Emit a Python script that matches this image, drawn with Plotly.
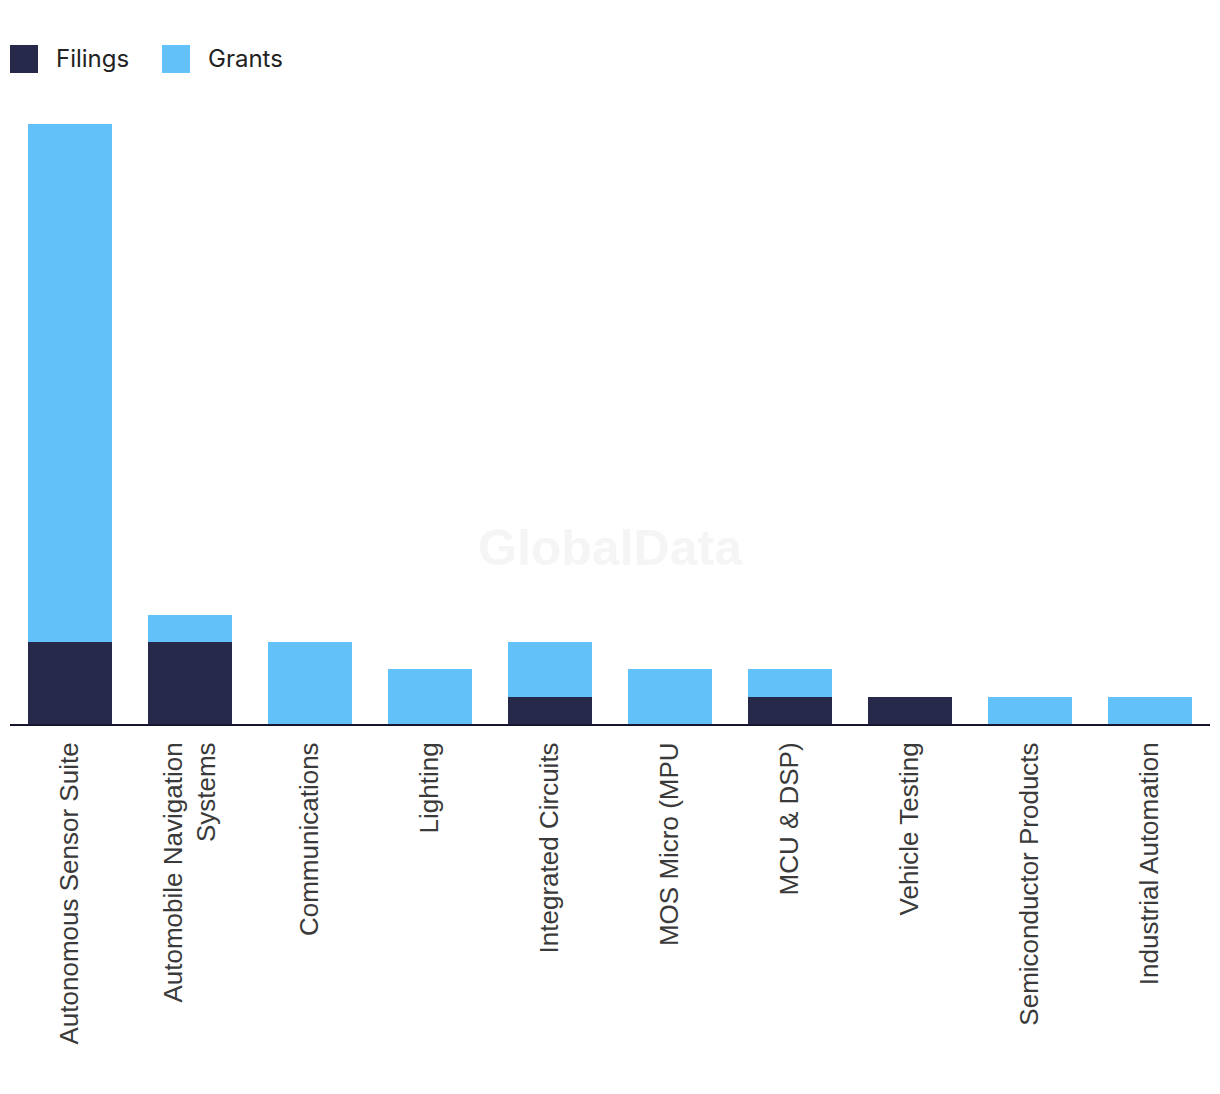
import plotly.graph_objects as go

categories = [
    "Autonomous Sensor Suite",
    "Automobile Navigation<br>Systems",
    "Communications",
    "Lighting",
    "Integrated Circuits",
    "MOS Micro (MPU",
    "MCU & DSP)",
    "Vehicle Testing",
    "Semiconductor Products",
    "Industrial Automation",
]
filings = [3, 3, 0, 0, 1, 0, 1, 1, 0, 0]
grants = [19, 1, 3, 2, 2, 2, 1, 0, 1, 1]
series_names = ["Filings", "Grants"]
colors = ["#27294b", "#63c1f9"]

OFF = 8  # page body offset
W, H = 1220, 1094
ML, MR, MT, MB = 10 - OFF, 10 + OFF, 99 - OFF, 370 + OFF
pw = W - ML - MR
ph = H - MT - MB

fig = go.Figure()
fig.add_trace(go.Bar(x=categories, y=filings, name=series_names[0], marker_color=colors[0],
                     marker_line_width=0))
fig.add_trace(go.Bar(x=categories, y=grants, name=series_names[1], marker_color=colors[1],
                     marker_line_width=0))

# helpers to convert screen pixel positions to paper coords
def px_x(p):
    return (p - OFF - ML) / pw

def px_y(p):
    return (H - MB - (p - OFF)) / ph

shapes = []
annotations = []
leg_x = [10, 162]
for i, (nm, c) in enumerate(zip(series_names, colors)):
    x0 = leg_x[i]
    shapes.append(dict(type="rect", xref="paper", yref="paper",
                       x0=px_x(x0), x1=px_x(x0 + 28), y0=px_y(73), y1=px_y(45),
                       fillcolor=c, line_width=0))
    annotations.append(dict(text=nm, xref="paper", yref="paper", x=px_x(x0 + 44), y=px_y(59),
                            xanchor="left", yanchor="middle", showarrow=False,
                            font=dict(family="Inter, Roboto, sans-serif", size=24, color="#222222")))

annotations.append(dict(text="<b>GlobalData</b>", xref="paper", yref="paper",
                        x=px_x(610), y=px_y(548), showarrow=False, xanchor="center", yanchor="middle",
                        font=dict(family="Liberation Sans, Arial, sans-serif", size=50, color="#f5f5f5")))

fig.update_layout(
    barmode="stack",
    bargap=0.3,
    width=W, height=H,
    margin=dict(l=ML, r=MR, t=MT, b=MB),
    paper_bgcolor="white",
    plot_bgcolor="white",
    showlegend=False,
    shapes=shapes,
    annotations=annotations,
    xaxis=dict(
        showline=True, linecolor="#14162b", linewidth=2,
        showgrid=False, tickangle=-90,
        ticks="outside", ticklen=6, tickcolor="rgba(0,0,0,0)",
        tickfont=dict(family="Liberation Sans, Arial, sans-serif", size=26, color="#3a3a3a"),
    ),
    yaxis=dict(range=[0, 22.9], showgrid=False, showticklabels=False, zeroline=False, showline=False),
)

fig.write_html("out.html")
